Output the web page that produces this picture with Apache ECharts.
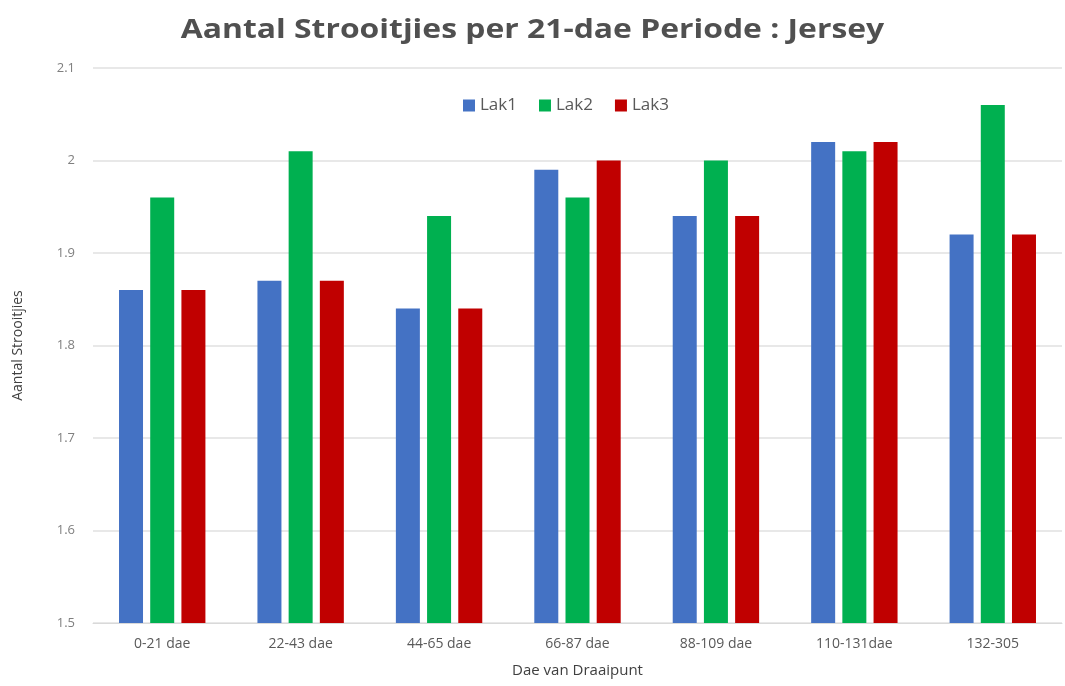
<!DOCTYPE html>
<html>
<head>
<meta charset="utf-8">
<script src="https://cdn.jsdelivr.net/npm/echarts@6/dist/echarts.min.js"></script>
<style>
html,body{margin:0;padding:0;background:#fff;}
#chart{width:1065px;height:686px;}
</style>
</head>
<body>
<div id="chart"></div>
<script>
const categories = ['0-21 dae','22-43 dae','44-65 dae','66-87 dae','88-109 dae','110-131dae','132-305'];
const lak1 = [1.86, 1.87, 1.84, 1.99, 1.94, 2.02, 1.92];
const lak2 = [1.96, 2.01, 1.94, 1.96, 2.00, 2.01, 2.06];
const lak3 = [1.86, 1.87, 1.84, 2.00, 1.94, 2.02, 1.92];
const seriesNames = ['Lak1','Lak2','Lak3'];
const yTicks = [1.5, 1.6, 1.7, 1.8, 1.9, 2, 2.1];

const colors = ['#4472C4','#00B050','#C00000'];
const font = 'Open Sans';
const chart = echarts.init(document.getElementById('chart'));
chart.setOption({
  animation:false,
  backgroundColor:'#fff',
  graphic:[{
    type:'text', left:'center', top:17, scaleX:1.18, originX:540,
    style:{text:'Aantal Strooitjies per 21-dae Periode : Jersey',
      font:'bold 27px "Open Sans"', fill:'#505050'}
  }],
  legend:{
    data:seriesNames, top:92, itemWidth:12, itemHeight:12, itemGap:22,
    icon:'rect', left:458,
    textStyle:{fontFamily:font,fontSize:17,color:'#595959'}
  },
  grid:{left:93,right:3,top:68,bottom:63,containLabel:false},
  xAxis:{
    type:'category', data:categories,
    name:'Dae van Draaipunt', nameLocation:'middle', nameGap:40,
    nameTextStyle:{fontFamily:font,fontSize:15,color:'#404040'},
    axisLine:{lineStyle:{color:'#d9d9d9'}}, axisTick:{show:false},
    axisLabel:{fontFamily:font,fontSize:14,color:'#595959',margin:14}
  },
  yAxis:{
    type:'value', min:yTicks[0], max:yTicks[yTicks.length-1], interval:0.1,
    name:'Aantal Strooitjies', nameLocation:'middle', nameGap:68,
    nameTextStyle:{fontFamily:font,fontSize:14,color:'#404040'},
    axisLine:{show:false}, axisTick:{show:false},
    axisLabel:{fontFamily:font,fontSize:13,color:'#7f7f7f',margin:18,
      formatter:v=>{const r=Math.round(v*10)/10; return yTicks.includes(r)?String(r):'';}},
    splitLine:{lineStyle:{color:'#e0e0e0',width:1.5}}
  },
  series:[lak1,lak2,lak3].map((d,i)=>({
    name:seriesNames[i], type:'bar', data:d, itemStyle:{color:colors[i]},
    barWidth:24, barGap:'30%'
  }))
});
</script>
</body>
</html>
